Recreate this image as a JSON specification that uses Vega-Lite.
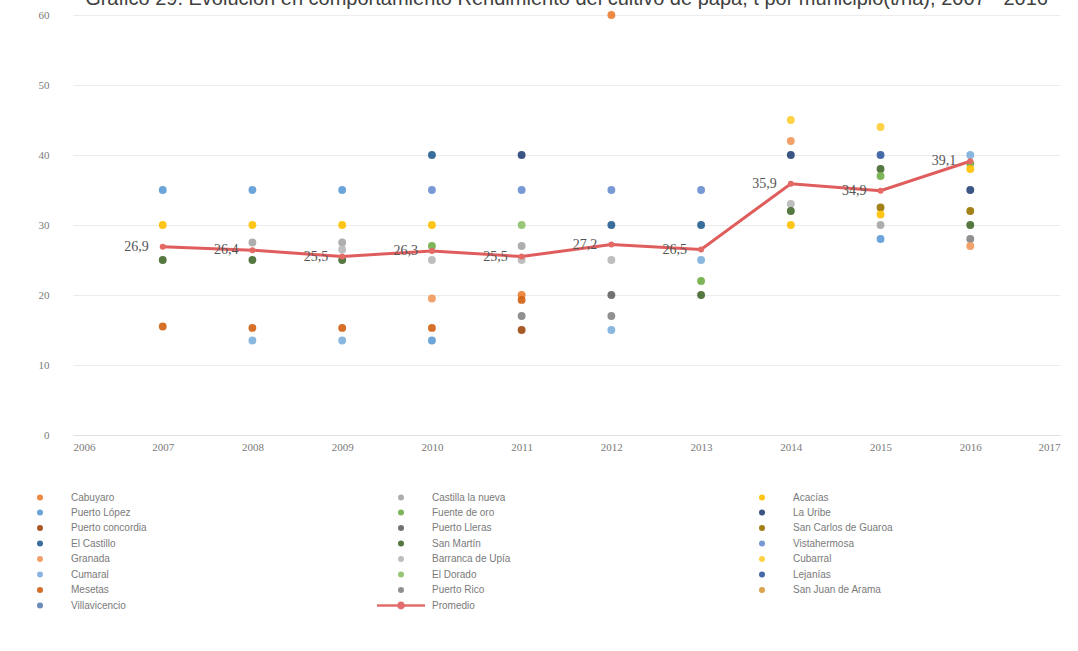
{
  "$schema": "https://vega.github.io/schema/vega-lite/v6.json",
  "width": 987,
  "height": 420,
  "autosize": "none",
  "padding": {"left": 73, "top": 15, "right": 18, "bottom": 216},
  "background": "white",
  "config": {
    "view": {"stroke": null},
    "locale": {"number": {"decimal": ",", "thousands": ".", "grouping": [3], "currency": ["", " €"]}}
  },
  "title": {
    "text": "Gráfico 29. Evolución en comportamiento Rendimiento del cultivo de papa, t por municipio(t/ha), 2007 - 2016",
    "fontSize": 20,
    "font": "Liberation Sans",
    "fontWeight": "normal",
    "color": "#404040",
    "anchor": "middle",
    "offset": 0
  },
  "data": {
    "values": [
      {"municipio": "Puerto López", "anio": 2007, "valor": 35},
      {"municipio": "Acacías", "anio": 2007, "valor": 30},
      {"municipio": "San Martín", "anio": 2007, "valor": 25},
      {"municipio": "Mesetas", "anio": 2007, "valor": 15.5},
      {"municipio": "Puerto López", "anio": 2008, "valor": 35},
      {"municipio": "Acacías", "anio": 2008, "valor": 30},
      {"municipio": "Castilla la nueva", "anio": 2008, "valor": 27.5},
      {"municipio": "San Martín", "anio": 2008, "valor": 25},
      {"municipio": "Mesetas", "anio": 2008, "valor": 15.3},
      {"municipio": "Cumaral", "anio": 2008, "valor": 13.5},
      {"municipio": "Puerto López", "anio": 2009, "valor": 35},
      {"municipio": "Acacías", "anio": 2009, "valor": 30},
      {"municipio": "Castilla la nueva", "anio": 2009, "valor": 27.5},
      {"municipio": "Barranca de Upía", "anio": 2009, "valor": 26.5},
      {"municipio": "San Martín", "anio": 2009, "valor": 25},
      {"municipio": "Mesetas", "anio": 2009, "valor": 15.3},
      {"municipio": "Cumaral", "anio": 2009, "valor": 13.5},
      {"municipio": "El Castillo", "anio": 2010, "valor": 40},
      {"municipio": "Vistahermosa", "anio": 2010, "valor": 35},
      {"municipio": "Acacías", "anio": 2010, "valor": 30},
      {"municipio": "Fuente de oro", "anio": 2010, "valor": 27},
      {"municipio": "Barranca de Upía", "anio": 2010, "valor": 25},
      {"municipio": "Granada", "anio": 2010, "valor": 19.5},
      {"municipio": "Mesetas", "anio": 2010, "valor": 15.3},
      {"municipio": "Puerto López", "anio": 2010, "valor": 13.5},
      {"municipio": "La Uribe", "anio": 2011, "valor": 40},
      {"municipio": "Vistahermosa", "anio": 2011, "valor": 35},
      {"municipio": "El Dorado", "anio": 2011, "valor": 30},
      {"municipio": "Castilla la nueva", "anio": 2011, "valor": 27},
      {"municipio": "Barranca de Upía", "anio": 2011, "valor": 25},
      {"municipio": "Cabuyaro", "anio": 2011, "valor": 20},
      {"municipio": "Mesetas", "anio": 2011, "valor": 19.3},
      {"municipio": "Puerto Rico", "anio": 2011, "valor": 17},
      {"municipio": "Puerto concordia", "anio": 2011, "valor": 15},
      {"municipio": "Cabuyaro", "anio": 2012, "valor": 60},
      {"municipio": "Vistahermosa", "anio": 2012, "valor": 35},
      {"municipio": "El Castillo", "anio": 2012, "valor": 30},
      {"municipio": "Barranca de Upía", "anio": 2012, "valor": 25},
      {"municipio": "Puerto Lleras", "anio": 2012, "valor": 20},
      {"municipio": "Puerto Rico", "anio": 2012, "valor": 17},
      {"municipio": "Cumaral", "anio": 2012, "valor": 15},
      {"municipio": "Vistahermosa", "anio": 2013, "valor": 35},
      {"municipio": "El Castillo", "anio": 2013, "valor": 30},
      {"municipio": "Cumaral", "anio": 2013, "valor": 25},
      {"municipio": "Fuente de oro", "anio": 2013, "valor": 22},
      {"municipio": "San Martín", "anio": 2013, "valor": 20},
      {"municipio": "Cubarral", "anio": 2014, "valor": 45},
      {"municipio": "Granada", "anio": 2014, "valor": 42},
      {"municipio": "La Uribe", "anio": 2014, "valor": 40},
      {"municipio": "Barranca de Upía", "anio": 2014, "valor": 33},
      {"municipio": "San Martín", "anio": 2014, "valor": 32},
      {"municipio": "Acacías", "anio": 2014, "valor": 30},
      {"municipio": "Cubarral", "anio": 2015, "valor": 44},
      {"municipio": "Lejanías", "anio": 2015, "valor": 40},
      {"municipio": "San Martín", "anio": 2015, "valor": 38},
      {"municipio": "Fuente de oro", "anio": 2015, "valor": 37},
      {"municipio": "San Carlos de Guaroa", "anio": 2015, "valor": 32.5},
      {"municipio": "Acacías", "anio": 2015, "valor": 31.5},
      {"municipio": "Castilla la nueva", "anio": 2015, "valor": 30},
      {"municipio": "Puerto López", "anio": 2015, "valor": 28},
      {"municipio": "Cumaral", "anio": 2016, "valor": 40},
      {"municipio": "Fuente de oro", "anio": 2016, "valor": 38.8},
      {"municipio": "Acacías", "anio": 2016, "valor": 38},
      {"municipio": "La Uribe", "anio": 2016, "valor": 35},
      {"municipio": "San Carlos de Guaroa", "anio": 2016, "valor": 32},
      {"municipio": "San Martín", "anio": 2016, "valor": 30},
      {"municipio": "Puerto Rico", "anio": 2016, "valor": 28},
      {"municipio": "Granada", "anio": 2016, "valor": 27},
      {"municipio": "Promedio", "anio": 2007, "valor": 26.9},
      {"municipio": "Promedio", "anio": 2008, "valor": 26.4},
      {"municipio": "Promedio", "anio": 2009, "valor": 25.5},
      {"municipio": "Promedio", "anio": 2010, "valor": 26.3},
      {"municipio": "Promedio", "anio": 2011, "valor": 25.5},
      {"municipio": "Promedio", "anio": 2012, "valor": 27.2},
      {"municipio": "Promedio", "anio": 2013, "valor": 26.5},
      {"municipio": "Promedio", "anio": 2014, "valor": 35.9},
      {"municipio": "Promedio", "anio": 2015, "valor": 34.9},
      {"municipio": "Promedio", "anio": 2016, "valor": 39.1}
    ]
  },
  "encoding": {
    "x": {
      "field": "anio", "type": "quantitative",
      "scale": {"domain": [2006, 2017], "nice": false, "zero": false},
      "axis": {
        "title": null,
        "values": [2006, 2007, 2008, 2009, 2010, 2011, 2012, 2013, 2014, 2015, 2016, 2017],
        "format": "d",
        "labelFont": "Liberation Serif",
        "labelFontSize": 11,
        "labelColor": "#7a7a7a",
        "labelPadding": 6,
        "ticks": false,
        "grid": false,
        "domainColor": "#e0e0e0"
      }
    },
    "y": {
      "field": "valor", "type": "quantitative",
      "scale": {"domain": [0, 60], "nice": false},
      "axis": {
        "title": null,
        "values": [0, 10, 20, 30, 40, 50, 60],
        "format": "d",
        "labelFont": "Liberation Serif",
        "labelFontSize": 11,
        "labelColor": "#7a7a7a",
        "labelPadding": 24,
        "ticks": false,
        "domain": false,
        "grid": true,
        "gridColor": "#ececec"
      }
    }
  },
  "layer": [
    {
      "transform": [{"filter": "datum.municipio !== 'Promedio'"}],
      "mark": {"type": "point", "filled": true, "size": 62, "opacity": 0.9},
      "encoding": {
        "color": {
          "field": "municipio", "type": "nominal",
          "scale": {
            "domain": ["Cabuyaro", "Puerto López", "Puerto concordia", "El Castillo", "Granada", "Cumaral", "Mesetas", "Villavicencio", "Castilla la nueva", "Fuente de oro", "Puerto Lleras", "San Martín", "Barranca de Upía", "El Dorado", "Puerto Rico", "Promedio", "Acacías", "La Uribe", "San Carlos de Guaroa", "Vistahermosa", "Cubarral", "Lejanías", "San Juan de Arama"],
            "range": ["#ED7D31", "#5B9BD5", "#9E480E", "#255E91", "#F1975A", "#7CAFDD", "#D26012", "#5B7FB5", "#A5A5A5", "#70AD47", "#636363", "#43682B", "#B7B7B7", "#8CC168", "#848484", "#E05D5D", "#FFC000", "#264478", "#997300", "#698ED0", "#FFCD33", "#335AA1", "#D9983A"]
          },
          "legend": {
            "title": null,
            "orient": "none",
            "legendX": -38,
            "legendY": 477,
            "direction": "vertical",
            "columns": 3,
            "gridAlign": "all",
            "columnPadding": 203,
            "rowPadding": 1.5,
            "padding": 0,
            "symbolSize": 36,
            "labelOffset": 26,
            "labelFont": "Liberation Sans",
            "labelFontSize": 10,
            "labelColor": "#7a7a7a",
            "symbolOpacity": 0.9
          }
        },
        "shape": {
          "field": "municipio", "type": "nominal",
          "scale": {
            "domain": ["Cabuyaro", "Puerto López", "Puerto concordia", "El Castillo", "Granada", "Cumaral", "Mesetas", "Villavicencio", "Castilla la nueva", "Fuente de oro", "Puerto Lleras", "San Martín", "Barranca de Upía", "El Dorado", "Puerto Rico", "Promedio", "Acacías", "La Uribe", "San Carlos de Guaroa", "Vistahermosa", "Cubarral", "Lejanías", "San Juan de Arama"],
            "range": ["circle", "circle", "circle", "circle", "circle", "circle", "circle", "circle", "circle", "circle", "circle", "circle", "circle", "circle", "circle", "M-8,-0.45L8,-0.45L8,0.45L-8,0.45Z M-1.3,0A1.3,1.3 0 1,1 1.3,0A1.3,1.3 0 1,1 -1.3,0Z", "circle", "circle", "circle", "circle", "circle", "circle", "circle"]
          },
          "legend": {
            "title": null,
            "orient": "none",
            "legendX": -38,
            "legendY": 477,
            "direction": "vertical",
            "columns": 3,
            "gridAlign": "all",
            "columnPadding": 203,
            "rowPadding": 1.5,
            "padding": 0,
            "symbolSize": 36,
            "labelOffset": 26,
            "labelFont": "Liberation Sans",
            "labelFontSize": 10,
            "labelColor": "#7a7a7a",
            "symbolOpacity": 0.9
          }
        }
      }
    },
    {
      "transform": [{"filter": "datum.municipio === 'Promedio'"}],
      "mark": {"type": "line", "color": "#E05D5D", "strokeWidth": 3, "point": {"filled": true, "size": 36, "color": "#E46A66"}},
      "encoding": {}
    },
    {
      "transform": [{"filter": "datum.municipio === 'Promedio'"}],
      "mark": {"type": "text", "align": "right", "baseline": "middle", "dx": -14, "font": "Liberation Serif", "fontSize": 14, "color": "#555555"},
      "encoding": {
        "text": {"field": "valor", "type": "quantitative", "format": ".1f"}
      }
    }
  ]
}
